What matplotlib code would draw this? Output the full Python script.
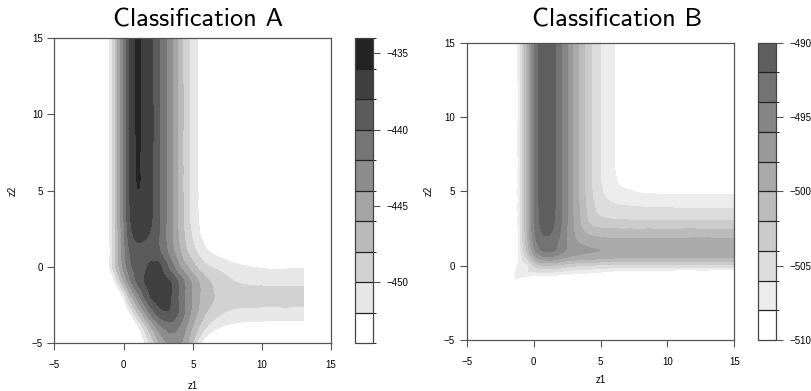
import numpy as np
import matplotlib
matplotlib.use("Agg")
import matplotlib.pyplot as plt
import matplotlib.tri as mtri
from matplotlib.colors import ListedColormap, BoundaryNorm
from matplotlib.cm import ScalarMappable

# ---- Classification A: log-likelihood on a coarse grid ----
z1_a = [-5, -1.5, -1, -0.5, 0, 0.5, 1, 1.5, 2, 2.5, 3, 3.5, 4, 4.5, 5, 5.5, 6, 7, 8, 10, 13]
z2_a = [-5, -4, -3, -2, -1, 0, 1, 2, 3, 5, 8, 15]
loglik_a = [
    [-490, -482, -478, -472, -466, -461, -456, -452.5, -449.5, -446.5, -444.4, -443.4, -443.6, -445.3, -448, -451.5, -454, -456.5, -457.5, -458, -458],
    [-488, -478, -474, -468, -462, -457, -453, -449.5, -446.3, -443.5, -441.8, -441.3, -442.2, -444, -446.3, -448.4, -450.3, -452.2, -453, -453.3, -453.3],
    [-485, -472, -467, -461.5, -456, -451.8, -448, -444.5, -441.3, -439.2, -438.3, -438.6, -440.3, -442.5, -444.7, -446.6, -448.1, -449.8, -450.6, -450.9, -451],
    [-480, -466, -462, -457, -452, -447, -443.5, -440.3, -438.0, -437.1, -437.2, -438.3, -440.3, -442.4, -444.3, -446, -447.2, -448.5, -449, -449.1, -449.1],
    [-475, -462, -456, -451, -446.5, -442.5, -439.8, -438.1, -437.2, -436.9, -437.3, -438.3, -440.4, -442.5, -444.6, -446.2, -447.5, -449, -449.9, -450.4, -450.5],
    [-475, -458, -452, -447.5, -443.5, -440.5, -439.1, -438.4, -437.5, -437.4, -439.1, -441.3, -443.6, -445.5, -447.2, -448.6, -449.6, -450.6, -451.4, -452.2, -452.3],
    [-475, -457.5, -452.2, -447.3, -443, -439.8, -438.8, -438.6, -438.7, -439.6, -441.3, -443.3, -445.5, -447.6, -449.2, -450.6, -451.7, -452.8, -453.8, -455.2, -457],
    [-475, -457, -452, -447, -442.5, -438.8, -437.6, -437.8, -438.4, -439.8, -441.8, -443.9, -446.2, -448.4, -450.2, -451.8, -452.8, -454, -455.3, -456.8, -458.8],
    [-475, -457, -452, -446.8, -442.2, -438.1, -436.9, -437.1, -437.9, -439.6, -441.7, -444, -446.4, -448.8, -450.8, -452.2, -453.3, -454.7, -456, -457.5, -459.5],
    [-475, -457, -452, -446.8, -442, -437.6, -436.05, -436.7, -437.7, -439.6, -441.7, -444, -446.5, -449, -451, -452.3, -453.5, -455, -456.5, -458, -460],
    [-475, -457, -452, -446.8, -442, -437.4, -435.9, -436.6, -437.6, -439.5, -441.6, -444, -446.5, -449, -451, -452.3, -453.5, -455, -456.5, -458, -460],
    [-475, -457, -452, -446.8, -442, -437.4, -435.8, -436.6, -437.6, -439.5, -441.6, -444, -446.5, -449, -451, -452.3, -453.5, -455, -456.5, -458, -460],
]
levels_a = [-454, -452, -450, -448, -446, -444, -442, -440, -438, -436, -434]
colors_a = ["#ffffff", "#e7e7e7", "#d2d2d2", "#bababa", "#a4a4a4", "#8d8d8d",
            "#757575", "#5b5b5b", "#404040", "#232323"]
ticks_a = [-450, -445, -440, -435]

# ---- Classification B ----
z1_b = [-5, -1.5, -1, -0.5, 0, 0.5, 1, 1.5, 2, 2.5, 3, 3.5, 4, 4.5, 5, 5.5, 6, 7, 8, 10, 15]
z2_b = [-5, -1.5, -1, -0.5, 0, 0.5, 1, 1.5, 2, 3, 4, 5, 6, 8, 15]
loglik_b = [
    [-560] * 21,
    [-548, -516, -516, -516.5, -517, -517, -517, -517, -517, -517, -517, -517, -517, -517, -517, -517, -517, -517, -517, -517, -517],
    [-545, -509, -509.5, -510.5, -511, -511.2, -511.4, -511.6, -511.8, -512, -512.3, -512.6, -512.8, -513, -513.2, -513.4, -513.5, -513.7, -513.8, -514, -514],
    [-540, -509, -507, -506.5, -506.6, -506.5, -506.5, -506.7, -507, -507.3, -507.6, -507.8, -508, -508.3, -508.6, -509, -509.3, -509.6, -509.8, -510, -510.2],
    [-538, -510, -507, -506.5, -504, -502.5, -502, -502.3, -502.8, -503.3, -503.7, -504, -504.2, -504.4, -504.5, -504.6, -504.7, -504.8, -504.9, -505, -505],
    [-536, -512, -507.2, -504, -500, -497.5, -496.8, -497, -497.8, -498.5, -498.9, -499.2, -499.4, -499.6, -499.8, -500, -500.1, -500.2, -500.2, -500.2, -500.2],
    [-535, -512.5, -506.5, -502, -497, -494.5, -493.7, -494, -495.2, -496.4, -497.2, -497.6, -497.8, -497.9, -498.05, -498.4, -498.6, -498.8, -498.9, -499, -499],
    [-535, -512, -506.2, -501, -495.8, -493.3, -492.8, -493.3, -494.7, -496.2, -497.4, -498.1, -498.5, -498.8, -499, -499.1, -499.15, -499.2, -499.2, -499.2, -499.2],
    [-535, -512, -506, -500.5, -495, -492.6, -492, -492.6, -494.2, -496.1, -497.8, -499, -499.7, -500.1, -500.3, -500.4, -500.4, -500.4, -500.4, -500.4, -500.4],
    [-535, -512, -505.8, -500.3, -494.7, -491.8, -491.3, -491.9, -493.7, -496, -498.2, -500.1, -501.8, -502.9, -503.4, -503.6, -503.7, -503.8, -503.85, -503.9, -503.9],
    [-535, -512, -505.8, -500.2, -494.6, -491.6, -491.1, -491.7, -493.6, -496, -498.3, -500.4, -502.4, -503.9, -504.9, -505.4, -505.7, -505.95, -506.1, -506.25, -506.3],
    [-535, -512, -505.8, -500.2, -494.6, -491.5, -491, -491.6, -493.6, -496, -498.4, -500.6, -502.7, -504.4, -505.7, -506.6, -507.2, -507.8, -508.2, -508.4, -508.5],
    [-535, -512, -505.8, -500.2, -494.6, -491.5, -490.9, -491.6, -493.6, -496, -498.4, -500.7, -502.8, -504.6, -506, -507.1, -507.8, -509, -509.7, -510.1, -510.3],
    [-535, -512, -505.8, -500.2, -494.6, -491.5, -490.8, -491.6, -493.6, -496, -498.4, -500.7, -502.8, -504.6, -506, -507.1, -507.9, -509.3, -510.5, -511.8, -512.5],
    [-535, -512, -505.8, -500.2, -494.6, -491.5, -490.8, -491.6, -493.6, -496, -498.4, -500.7, -502.8, -504.6, -506, -507.1, -507.9, -509.3, -510.5, -512, -514],
]
levels_b = [-510, -508, -506, -504, -502, -500, -498, -496, -494, -492, -490]
colors_b = ["#ffffff", "#ececec", "#dcdcdc", "#cbcbcb", "#bbbbbb", "#aaaaaa",
            "#999999", "#868686", "#737373", "#5e5e5e"]
ticks_b = [-510, -505, -500, -495, -490]

TICK_FONT = "Liberation Sans"
FRAME = "#555555"


def grid_triangulation(z1, z2):
    # regular triangulation of the rectangular grid (same diagonal in every cell)
    X, Y = np.meshgrid(z1, z2)
    nx, ny = len(z1), len(z2)
    tris = []
    for j in range(ny - 1):
        for i in range(nx - 1):
            a = j * nx + i
            b, c, d = a + 1, a + nx + 1, a + nx
            tris.append([a, b, c])
            tris.append([a, c, d])
    return mtri.Triangulation(X.ravel(), Y.ravel(), np.array(tris))


def panel(fig, ax_rect, cb_rect, z1, z2, vals, levels, colors, ticks, title, title_x,
          xlab_y, ylab_x):
    ax = fig.add_axes(ax_rect)
    tri = grid_triangulation(z1, z2)
    Z = np.array(vals, dtype=float).ravel()
    refiner = mtri.UniformTriRefiner(tri)
    interp = mtri.CubicTriInterpolator(tri, Z, kind="geom")
    tri_f, z_f = refiner.refine_field(Z, triinterpolator=interp, subdiv=4)
    z_f = np.clip(z_f, None, levels[-1] - 0.01)
    ax.tricontourf(tri_f, z_f, levels=levels, colors=colors)
    ax.set_xlim(-5, 15)
    ax.set_ylim(-5, 15)
    ax.set_xticks([-5, 0, 5, 10, 15])
    ax.set_yticks([-5, 0, 5, 10, 15])
    for s in ax.spines.values():
        s.set_color(FRAME)
        s.set_linewidth(0.9)
    ax.tick_params(direction="out", length=5, width=0.8, color=FRAME, labelsize=7)
    ax.tick_params(axis="x", pad=7)
    for lab in ax.get_xticklabels() + ax.get_yticklabels():
        lab.set_family(TICK_FONT)
    cx = ax_rect[0] + ax_rect[2] / 2
    cy = ax_rect[1] + ax_rect[3] / 2
    fig.text(cx, xlab_y, "z1", ha="center", va="center", fontsize=7, family=TICK_FONT)
    fig.text(ylab_x, cy, "z2", ha="center", va="center", fontsize=7, family=TICK_FONT,
             rotation=90)

    cax = fig.add_axes(cb_rect)
    sm = ScalarMappable(norm=BoundaryNorm(levels, len(colors)), cmap=ListedColormap(colors))
    cb = fig.colorbar(sm, cax=cax, ticks=ticks, drawedges=True)
    cb.outline.set_edgecolor("#444444")
    cb.outline.set_linewidth(0.9)
    cb.dividers.set_color("#222222")
    cb.dividers.set_linewidth(0.9)
    cax.tick_params(length=5, width=0.8, color=FRAME, labelsize=7, pad=5)
    for lab in cax.get_yticklabels():
        lab.set_family(TICK_FONT)

    fig.text(title_x, 0.931, title, ha="center", va="baseline",
             fontsize=19, family="cmss10")


fig = plt.figure(figsize=(8.11, 3.91), dpi=100)
panel(fig, [0.0672, 0.1215, 0.341, 0.7813], [0.4377, 0.1215, 0.0222, 0.7813],
      z1_a, z2_a, loglik_a, levels_a, colors_a, ticks_a, "Classification A", 0.244,
      0.014, 0.016)
panel(fig, [0.5755, 0.1304, 0.330, 0.7604], [0.9342, 0.1304, 0.0226, 0.7604],
      z1_b, z2_b, loglik_b, levels_b, colors_b, ticks_b, "Classification B", 0.761,
      0.028, 0.528)
fig.savefig("out.png", dpi=100)
